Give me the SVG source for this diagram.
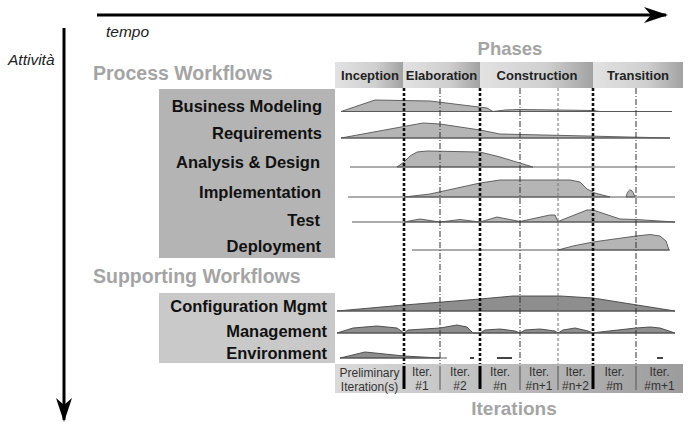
<svg xmlns="http://www.w3.org/2000/svg" width="688" height="430" viewBox="0 0 688 430">
<defs>
<linearGradient id="gPhase" x1="0" y1="0" x2="1" y2="0">
<stop offset="0" stop-color="#e2e2e2"/><stop offset="0.6" stop-color="#cfcfcf"/><stop offset="1" stop-color="#a2a2a2"/>
</linearGradient>
<linearGradient id="gIter" x1="335" y1="0" x2="683" y2="0" gradientUnits="userSpaceOnUse">
<stop offset="0" stop-color="#dadada"/><stop offset="1" stop-color="#9c9c9c"/>
</linearGradient>
<marker id="ah" viewBox="0 0 24 16" refX="22" refY="8" markerWidth="24" markerHeight="16" markerUnits="userSpaceOnUse" orient="auto">
<path d="M0,0 L24,8 L0,16 L7,8 Z" fill="#000"/>
</marker>
</defs>
<style>
.lbl{font-family:"Liberation Sans",Arial,sans-serif;font-weight:bold;font-size:16.5px;fill:#111;text-anchor:end}
.ttl{font-family:"Liberation Sans",Arial,sans-serif;font-weight:bold;fill:#a4a4a4}
.ph{font-family:"Liberation Sans",Arial,sans-serif;font-weight:bold;font-size:13px;fill:#222;text-anchor:middle}
.it{font-family:"Liberation Sans",Arial,sans-serif;font-size:12px;fill:#333;text-anchor:middle}
.ax{font-family:"Liberation Sans",Arial,sans-serif;font-style:italic;font-size:15.5px;fill:#222}
.base{stroke:#5a5a5a;stroke-width:1.2;fill:none}
.hp{fill:#b5b5b5;stroke:#555;stroke-width:0.9}
.hs{fill:#8e8e8e;stroke:#444;stroke-width:0.9}
.thick{stroke:#111;stroke-width:2.6;stroke-dasharray:3 2}
.thin{stroke:#333;stroke-width:1;stroke-dasharray:6 2 1 2}
.light{stroke:#777;stroke-width:1;stroke-dasharray:3 2}
.bthick{stroke:#000;stroke-width:3}
.bthin{stroke:#555;stroke-width:1}
</style>
<rect width="688" height="430" fill="#fff"/>

<g id="connectors">
<line x1="97" y1="15" x2="666" y2="15" stroke="#000" stroke-width="3" marker-end="url(#ah)"/>
<line x1="64" y1="28" x2="64" y2="420" stroke="#000" stroke-width="3" marker-end="url(#ah)"/>
</g>

<text class="ax" x="8" y="65">Attività</text>
<text class="ax" x="106" y="37">tempo</text>

<text class="ttl" x="93" y="80" font-size="19.5">Process Workflows</text>
<text class="ttl" x="93" y="283" font-size="19.5">Supporting Workflows</text>
<text class="ttl" x="510" y="55" font-size="18.5" text-anchor="middle">Phases</text>
<text class="ttl" x="514" y="415" font-size="19" text-anchor="middle">Iterations</text>

<rect x="159" y="89" width="176" height="169" fill="#b4b4b4"/>
<rect x="159" y="293" width="176" height="70" fill="#c9c9c9"/>

<g id="phases">
<rect x="335" y="62" width="68" height="26" fill="url(#gPhase)"/>
<rect x="403" y="62" width="77" height="26" fill="url(#gPhase)"/>
<rect x="480" y="62" width="113" height="26" fill="url(#gPhase)"/>
<rect x="593" y="62" width="90" height="26" fill="url(#gPhase)"/>
<text class="ph" x="370" y="80">Inception</text>
<text class="ph" x="441.5" y="80">Elaboration</text>
<text class="ph" x="537" y="80">Construction</text>
<text class="ph" x="638" y="80">Transition</text>
</g>

<g id="iterations">
<rect x="335" y="364" width="348" height="29" fill="url(#gIter)"/>
<line class="bthick" x1="404" y1="366" x2="404" y2="389"/>
<line class="bthick" x1="480" y1="366" x2="480" y2="389"/>
<line class="bthick" x1="593" y1="366" x2="593" y2="389"/>
<line class="bthin" x1="440" y1="366" x2="440" y2="390"/>
<line class="bthin" x1="520" y1="366" x2="520" y2="390"/>
<line class="bthin" x1="558" y1="366" x2="558" y2="390"/>
<line class="bthin" x1="636" y1="366" x2="636" y2="390"/>
<text class="it" x="369.5" y="377">Preliminary</text>
<text class="it" x="369.5" y="391">Iteration(s)</text>
<text class="it" x="422" y="376">Iter.</text><text class="it" x="422" y="390">#1</text>
<text class="it" x="460" y="376">Iter.</text><text class="it" x="460" y="390">#2</text>
<text class="it" x="500" y="376">Iter.</text><text class="it" x="500" y="390">#n</text>
<text class="it" x="539" y="376">Iter.</text><text class="it" x="539" y="390">#n+1</text>
<text class="it" x="575.5" y="376">Iter.</text><text class="it" x="575.5" y="390">#n+2</text>
<text class="it" x="614.5" y="376">Iter.</text><text class="it" x="614.5" y="390">#m</text>
<text class="it" x="659.5" y="376">Iter.</text><text class="it" x="659.5" y="390">#m+1</text>
</g>

<g id="business-modeling">
<text class="lbl" x="322" y="112">Business Modeling</text>
<path class="hp" d="M341,111.5 L375,100 L430,101 L487,108 L493,111.5 L505,110 L520,109.5 L593,110.5 L600,111.5 Z"/>
<path class="base" d="M341,111.5 H672"/>
</g>
<g id="requirements">
<text class="lbl" x="322" y="139">Requirements</text>
<path class="hp" d="M341,138 L423,123 L440,124 L480,130 L500,134 L587,136 L670,138 Z"/>
<path class="base" d="M341,138 H670"/>
</g>
<g id="analysis-design">
<text class="lbl" x="320" y="168">Analysis &amp; Design</text>
<path class="hp" d="M397,167 L404,162 L410,156 L417,152 L427,151 L480,152 L500,157 L533,167 Z"/>
<path class="base" d="M350,167 H675"/>
</g>
<g id="implementation">
<text class="lbl" x="321" y="198">Implementation</text>
<path class="hp" d="M404,197 L430,194 L480,183 L500,180 L570,180 L580,182 L587,189 L595,193 L610,197 Z"/>
<path class="hp" d="M626,197 Q628,189 631,190 Q633,191 635,197 Z"/>
<path class="base" d="M348,197 H675"/>
</g>
<g id="test">
<text class="lbl" x="320" y="226">Test</text>
<path class="hp" d="M404,222 L420,219 L440,222 L460,219.5 L480,222 L497,217 L520,221.5 L550,215 L555,215 L558,221.5 L587,210 L593,210 L620,219 L636,219.5 L675,222 Z"/>
<path class="base" d="M352,222 H675"/>
</g>
<g id="deployment">
<text class="lbl" x="321" y="252">Deployment</text>
<path class="hp" d="M558,250 L573,246 L593,242 L636,236 L650,234.5 L660,236 L666,241 L669,250 Z"/>
<path class="base" d="M412,250 H670"/>
</g>
<g id="configuration-mgmt">
<text class="lbl" x="327" y="312">Configuration Mgmt</text>
<path class="hs" d="M337,311 L404,305 L480,299 L513,296 L560,296 L593,298 L675,311 Z"/>
<path class="base" d="M337,311 H675"/>
</g>
<g id="management">
<text class="lbl" x="327" y="337">Management</text>
<path class="hs" d="M337,333 L353,328 L377,326 L397,328 L404,333 L408,330 L440,328 L457,325 L467,327 L473,333 L480,333 L485,330 L500,329 L515,331 L520,333 L525,330 L540,329 L555,331 L558,333 L563,330 L575,328 L588,331 L593,333 L600,332 L636,328 L650,327 L660,328 L675,333 Z"/>
<path class="base" d="M337,333 H675"/>
</g>
<g id="environment">
<text class="lbl" x="327" y="359">Environment</text>
<path class="hs" d="M340,358 L365,352 L380,353.5 L404,356 L440,358 Z"/>
<path class="base" d="M340,358 H447"/>
<path d="M470,358 H474 M497,358 H512 M657,358 H663" stroke="#444" stroke-width="2" fill="none"/>
</g>

<g id="phase-lines">
<line class="thick" x1="404" y1="88" x2="404" y2="364"/>
<line class="thick" x1="480" y1="88" x2="480" y2="364"/>
<line class="thick" x1="593" y1="88" x2="593" y2="364"/>
<line class="thin" x1="440" y1="88" x2="440" y2="364"/>
<line class="thin" x1="520" y1="88" x2="520" y2="364"/>
<line class="light" x1="558" y1="88" x2="558" y2="364"/>
<line class="thin" x1="636" y1="88" x2="636" y2="364"/>
</g>
</svg>
